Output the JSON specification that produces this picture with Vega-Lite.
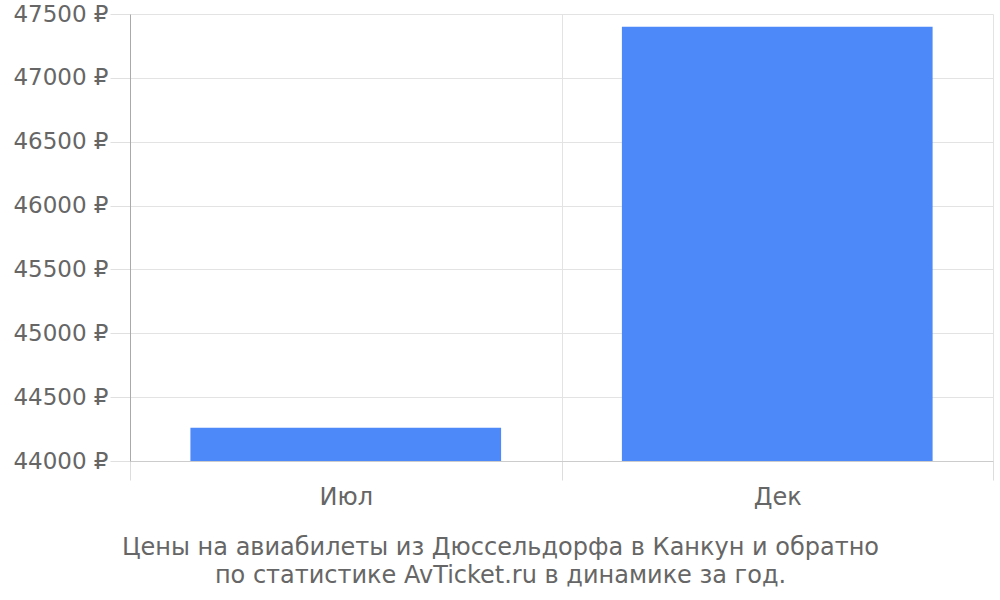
{
  "$schema": "https://vega.github.io/schema/vega-lite/v6.json",
  "autosize": "none",
  "padding": {"left": 130, "top": 14, "right": 7, "bottom": 139},
  "width": 863,
  "height": 447,
  "background": "white",
  "config": {
    "view": {"stroke": null},
    "font": "DejaVu Sans"
  },
  "data": {
    "values": [
      {"month": "Июл", "price": 44260},
      {"month": "Дек", "price": 47400}
    ]
  },
  "mark": {"type": "bar", "color": "#4d89f9", "clip": true, "width": {"band": 0.72}},
  "encoding": {
    "x": {
      "field": "month",
      "type": "nominal",
      "sort": null,
      "scale": {"paddingInner": 0, "paddingOuter": 0},
      "axis": {
        "title": ["Цены на авиабилеты из Дюссельдорфа в Канкун и обратно", "по статистике AvTicket.ru в динамике за год."],
        "titleFont": "DejaVu Sans",
        "titleFontSize": 24,
        "titleFontWeight": "normal",
        "titleColor": "#666666",
        "titleLineHeight": 28,
        "titleX": 370,
        "titleY": 93,
        "titleAlign": "center",
        "titleBaseline": "alphabetic",
        "labelAngle": 0,
        "labelFontSize": 24,
        "labelColor": "#666666",
        "labelPadding": 5,
        "tickBand": "extent",
        "tickSize": 19,
        "tickColor": "#dddddd",
        "grid": true,
        "gridColor": "#e3e3e3",
        "domainColor": "#cccccc"
      }
    },
    "y": {
      "field": "price",
      "type": "quantitative",
      "scale": {"domain": [44000, 47500], "zero": false, "nice": false},
      "axis": {
        "title": null,
        "values": [44000, 44500, 45000, 45500, 46000, 46500, 47000, 47500],
        "labelExpr": "format(datum.value, 'd') + ' ₽'",
        "labelFontSize": 23,
        "labelColor": "#666666",
        "labelPadding": 2,
        "tickSize": 20,
        "tickColor": "#e0e0e0",
        "gridColor": "#e3e3e3",
        "domainColor": "#aaaaaa"
      }
    }
  }
}
